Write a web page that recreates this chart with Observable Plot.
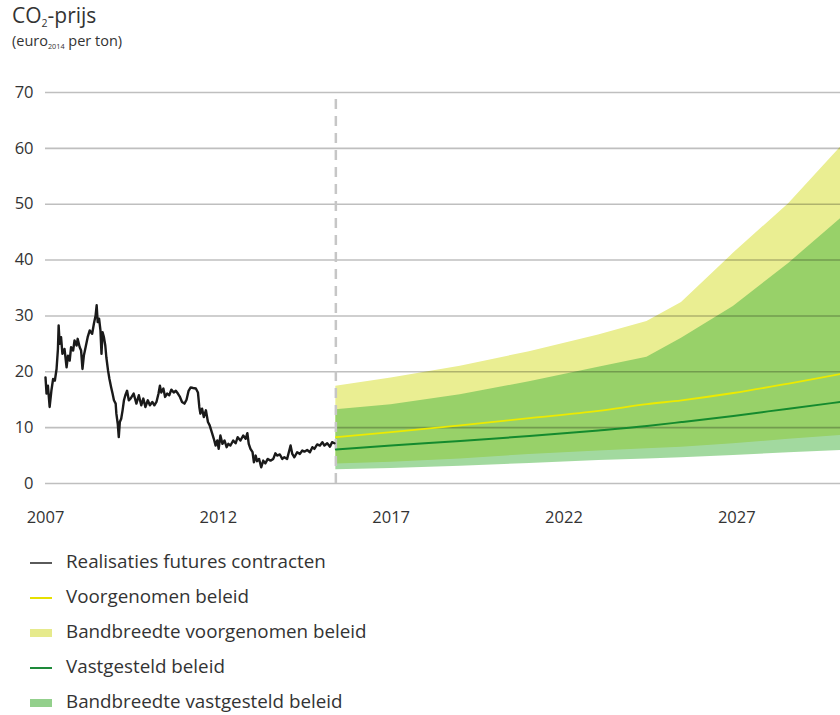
<!DOCTYPE html>
<html>
<head>
<meta charset="utf-8">
<script src="https://cdn.jsdelivr.net/npm/d3@7"></script>
<script src="https://cdn.jsdelivr.net/npm/@observablehq/plot@0.6"></script>
<style>
  body { margin: 0; background: #fff; font-family: "Open Sans", Lato, sans-serif; color: #333; width: 840px; height: 715px; position: relative; overflow: hidden; }
  #title { position: absolute; left: 12px; top: 2px; }
  #title .t1 { font-size: 21px; line-height: 27px; color: #333; }
  #title .t2 { font-size: 14.5px; line-height: 18px; color: #333; margin-top: 3px; }
  #title sub { font-size: 50%; vertical-align: -0.4em; line-height: 0; }
  #chart { position: absolute; left: 0; top: 60px; }
  #legend { position: absolute; left: 0; top: 546px; }
  .item { position: relative; height: 35px; }
  .sw { position: absolute; left: 30px; width: 22px; }
  .lbl { position: absolute; left: 66px; top: 2px; font-size: 18.8px; color: #333; white-space: nowrap; }
</style>
</head>
<body>
<div id="title">
  <div class="t1">CO<sub>2</sub>-prijs</div>
  <div class="t2">(euro<sub>2014</sub> per ton)</div>
</div>
<div id="chart"></div>
<div id="legend"></div>
<script>
// Historical futures prices (decimal year, euro per ton)
const histYear = [2007.00,2007.03,2007.07,2007.12,2007.17,2007.22,2007.27,2007.32,2007.36,2007.38,2007.41,2007.45,2007.49,2007.55,2007.61,2007.65,2007.70,2007.74,2007.80,2007.84,2007.90,2007.93,2007.99,2008.03,2008.07,2008.11,2008.16,2008.22,2008.28,2008.35,2008.40,2008.45,2008.48,2008.51,2008.55,2008.59,2008.62,2008.65,2008.69,2008.73,2008.76,2008.81,2008.85,2008.90,2008.94,2008.98,2009.03,2009.05,2009.09,2009.12,2009.15,2009.19,2009.23,2009.27,2009.31,2009.36,2009.41,
  2009.46,2009.55,2009.63,2009.70,2009.77,2009.83,2009.89,2009.96,2010.02,2010.09,2010.15,2010.21,2010.27,2010.31,2010.35,2010.41,2010.46,2010.52,2010.58,2010.64,2010.71,2010.77,2010.83,2010.89,2010.95,2011.02,2011.08,2011.14,2011.20,2011.27,2011.35,2011.41,2011.45,2011.48,2011.53,2011.58,2011.64,2011.70,2011.75,2011.81,2011.87,2011.92,2011.97,2012.01,2012.06,2012.12,2012.18,2012.24,2012.29,
  2012.35,2012.43,2012.50,2012.56,2012.64,2012.72,2012.79,2012.84,2012.88,2012.93,2012.99,2013.03,2013.08,2013.12,2013.18,2013.24,2013.30,2013.36,2013.43,2013.51,2013.59,2013.65,2013.70,2013.78,2013.85,2013.91,2013.99,2014.04,2014.09,2014.14,2014.20,2014.28,2014.36,2014.43,2014.49,2014.57,2014.65,2014.72,2014.78,2014.86,2014.94,2015.01,2015.07,2015.15,2015.23,2015.29,2015.36];
const histValue = [19.0,16.1,17.5,13.7,16.6,18.7,18.4,20.5,24.1,28.3,25.0,26.2,23.2,24.1,20.8,22.9,22.0,24.4,23.8,25.6,24.7,25.9,24.4,23.8,20.5,22.9,24.4,26.2,27.4,26.8,28.6,30.1,31.9,28.9,29.5,27.4,23.2,27.1,26.2,24.7,22.6,20.2,18.7,17.2,16.1,14.9,14.3,12.5,10.7,8.3,11.0,11.6,13.1,14.9,15.8,16.6,14.9,
  15.2,16.1,14.3,15.8,14.0,15.2,13.7,14.9,14.0,14.6,14.0,14.6,16.1,17.5,16.3,17.0,15.5,16.1,15.8,16.8,16.3,16.6,16.1,15.5,14.6,14.3,15.0,16.6,17.2,17.1,17.0,16.3,13.7,12.5,13.4,11.9,13.1,11.0,10.4,9.2,8.0,6.8,7.7,6.2,8.6,7.1,7.7,6.5,7.1,
  6.8,7.7,7.2,8.3,7.7,8.6,8.0,9.0,7.1,6.2,5.6,3.8,5.0,4.0,4.4,2.9,4.1,3.6,4.4,4.1,4.4,5.4,5.0,5.2,4.4,4.7,4.4,5.6,6.8,5.3,4.7,5.6,5.3,5.9,5.7,6.0,5.6,6.5,6.2,7.0,6.8,7.4,6.8,7.2,6.6,7.4,7.2];

// Projections
const fcYear    = [2015.4, 2017, 2019, 2021, 2023, 2024.4, 2025.4, 2026.9, 2028.5, 2030];
const voorLow   = [3.5, 3.8, 4.4, 5.2, 5.8, 6.2, 6.5, 7.1, 7.9, 8.6];
const voorMid   = [8.3, 9.2, 10.4, 11.7, 13.0, 14.2, 14.9, 16.2, 17.9, 19.6];
const voorHigh  = [17.4, 18.9, 21.0, 23.6, 26.6, 29.0, 32.4, 41.2, 50.1, 60.2];
const vastLow   = [2.45, 2.7, 3.1, 3.6, 4.1, 4.4, 4.6, 5.0, 5.5, 5.9];
const vastMid   = [6.1, 6.8, 7.6, 8.5, 9.5, 10.3, 11.0, 12.1, 13.4, 14.6];
const vastHigh  = [13.2, 14.1, 15.9, 18.2, 20.8, 22.6, 26.0, 31.7, 39.4, 47.4];

const splitYear = 2015.4;
const xTicks = [2007, 2012, 2017, 2022, 2027];
const yTicks = [0, 10, 20, 30, 40, 50, 60, 70];

const legendLabels = ["Realisaties futures contracten", "Voorgenomen beleid", "Bandbreedte voorgenomen beleid", "Vastgesteld beleid", "Bandbreedte vastgesteld beleid"];

const hist = histYear.map((x, i) => ({x, y: histValue[i]}));
const fc = fcYear.map((x, i) => ({x, vl: voorLow[i], vm: voorMid[i], vh: voorHigh[i], sl: vastLow[i], sm: vastMid[i], sh: vastHigh[i]}));

const chart = Plot.plot({
  width: 840,
  height: 480,
  marginTop: 32,
  marginBottom: 57,
  marginLeft: 45,
  marginRight: 0,
  style: {fontFamily: "'Open Sans', Lato, sans-serif", fontSize: "16.5px", color: "#333", background: "transparent"},
  x: {domain: [2007, 2030]},
  y: {domain: [0, 70]},
  marks: [
    Plot.areaY(fc, {x: "x", y1: "vl", y2: "vh", fill: "#eaee92"}),
    Plot.areaY(fc, {x: "x", y1: "sl", y2: "sh", fill: "#46b43f", fillOpacity: 0.5}),
    Plot.ruleY(yTicks, {stroke: "#000", strokeOpacity: 0.25, strokeWidth: 1.6}),
    Plot.ruleX([splitYear], {y1: 0, y2: 70, stroke: "#c6c6c6", strokeWidth: 2.5, strokeDasharray: "10,7"}),
    Plot.lineY(hist, {x: "x", y: "y", stroke: "#1a1a1a", strokeWidth: 2.4, strokeLinejoin: "round"}),
    Plot.lineY(fc, {x: "x", y: "vm", stroke: "#ecea00", strokeWidth: 1.8, curve: "monotone-x"}),
    Plot.lineY(fc, {x: "x", y: "sm", stroke: "#148a2e", strokeWidth: 2, curve: "monotone-x"}),
    Plot.axisX({ticks: xTicks, tickFormat: d => String(d), tickSize: 0, tickPadding: 28, label: null, fill: "#333"}),
    Plot.axisY({ticks: yTicks, tickSize: 0, tickPadding: 12, label: null, fill: "#333"})
  ]
});
document.getElementById("chart").appendChild(chart);

// Legend
const swatches = [
  {color: "#5a5a5a", h: 2.5},
  {color: "#e6e000", h: 2},
  {color: "#e6ea8c", h: 8},
  {color: "#1e8a3a", h: 2.5},
  {color: "#93d08c", h: 8}
];
const legend = document.getElementById("legend");
legendLabels.forEach((label, i) => {
  const item = document.createElement("div");
  item.className = "item";
  const sw = document.createElement("div");
  sw.className = "sw";
  sw.style.height = swatches[i].h + "px";
  sw.style.top = (17 - swatches[i].h / 2) + "px";
  sw.style.background = swatches[i].color;
  const lbl = document.createElement("div");
  lbl.className = "lbl";
  lbl.textContent = label;
  item.appendChild(sw);
  item.appendChild(lbl);
  legend.appendChild(item);
});
</script>
</body>
</html>
